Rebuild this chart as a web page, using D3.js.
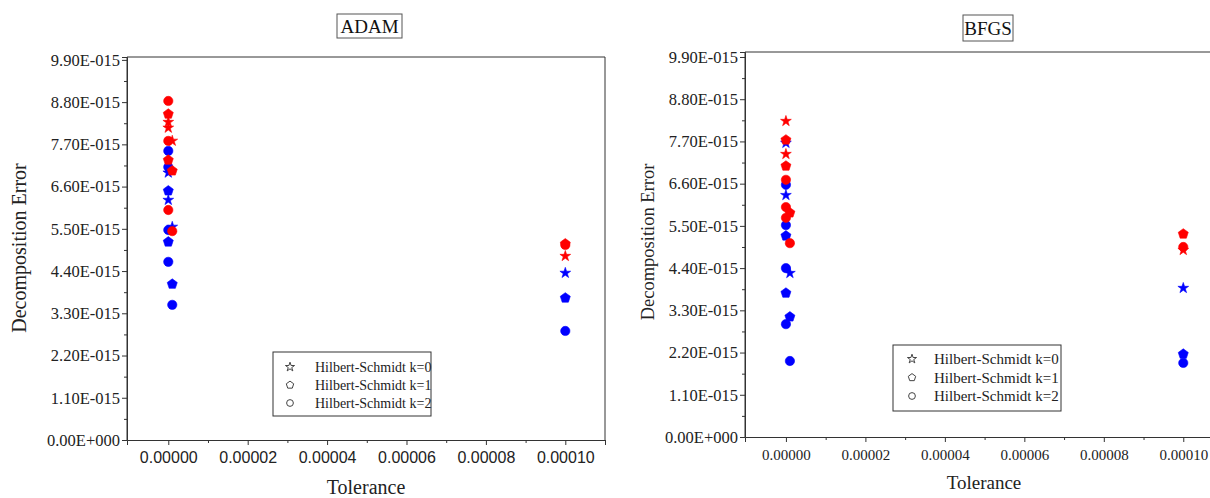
<!DOCTYPE html>
<html>
<head>
<meta charset="utf-8">
<script src="https://cdn.jsdelivr.net/npm/d3@7"></script>
<style>
  body { margin: 0; background: #fff; }
  svg { display: block; }
  .serif { font-family: "Liberation Serif", "Times New Roman", serif; }
  .sans { font-family: "Liberation Sans", Arial, sans-serif; }
</style>
</head>
<body>
<div id="chart"></div>
<script>
// values are in units of 1e-15, x is the tolerance
// ADAM panel
const adamRedStar = [[1e-4, 4.79], [1e-6, 7.79], [1e-9, 8.28], [1e-10, 8.13]];
const adamRedPent = [[1e-4, 5.11], [1e-6, 7.01], [1e-9, 8.49], [1e-10, 7.29]];
const adamRedCirc = [[1e-4, 5.08], [1e-6, 5.44], [1e-9, 8.83], [1e-10, 7.79], [1e-11, 5.99]];
const adamBlueStar = [[1e-4, 4.35], [1e-6, 5.55], [1e-9, 6.96], [1e-10, 6.25]];
const adamBluePent = [[1e-4, 3.70], [1e-6, 4.06], [1e-9, 6.49], [1e-10, 5.16]];
const adamBlueCirc = [[1e-4, 2.84], [1e-6, 3.52], [1e-9, 7.53], [1e-10, 7.11], [1e-11, 5.47], [1e-12, 4.64]];

// BFGS panel
const bfgsRedStar = [[1e-4, 4.87], [1e-9, 8.23], [1e-10, 7.37]];
const bfgsRedPent = [[1e-4, 5.29], [1e-6, 5.84], [1e-9, 7.74], [1e-10, 7.06]];
const bfgsRedCirc = [[1e-4, 4.95], [1e-6, 5.05], [1e-9, 6.70], [1e-10, 5.99], [1e-11, 5.71]];
const bfgsBlueStar = [[1e-4, 3.88], [1e-6, 4.27], [1e-9, 7.66], [1e-10, 6.30]];
const bfgsBluePent = [[1e-4, 2.16], [1e-6, 3.13], [1e-9, 5.24], [1e-10, 3.75]];
const bfgsBlueCirc = [[1e-4, 1.93], [1e-6, 1.98], [1e-9, 6.57], [1e-10, 5.52], [1e-11, 4.40], [1e-12, 2.94]];

const xTicks = [0, 0.00002, 0.00004, 0.00006, 0.00008, 0.0001];
const xMinor = [0.00001, 0.00003, 0.00005, 0.00007, 0.00009, 0.00011];
const yTicks = [0, 1.1, 2.2, 3.3, 4.4, 5.5, 6.6, 7.7, 8.8, 9.9];
const yMinor = [0.55, 1.65, 2.75, 3.85, 4.95, 6.05, 7.15, 8.25, 9.35];
const legendLabels = ["Hilbert-Schmidt k=0", "Hilbert-Schmidt k=1", "Hilbert-Schmidt k=2"];

const width = 1210, height = 498;

const svg = d3.select("#chart").append("svg")
	.attr("width", width)
	.attr("height", height);

// pentagon shape for d3.symbol
const symbolPentagon = {
	draw: function(context, size) {
		const r = Math.sqrt(size / 2.378);
		for (let i = 0; i < 5; i++) {
			const a = -Math.PI / 2 + i * 2 * Math.PI / 5;
			const px = r * Math.cos(a), py = r * Math.sin(a);
			if (i === 0) context.moveTo(px, py); else context.lineTo(px, py);
		}
		context.closePath();
	}
};

const shapes = [d3.symbolStar, symbolPentagon, d3.symbolCircle];
const sizes = [36, 66, 68];

function fmtE(v) {
	if (v === 0) return "0.00E+000";
	return v.toFixed(2) + "E-015";
}

function drawPanel(p) {
	const g = svg.append("g");
	const x = d3.scaleLinear().domain(p.xDomain).range([p.left, p.right]);
	const y = d3.scaleLinear().domain(p.yDomain).range([p.bottom, p.top]);

	// frame
	g.append("path")
		.attr("d", "M" + p.left + "," + p.bottom + "V" + p.top + "H" + p.right + "V" + p.bottom)
		.attr("fill", "none").attr("stroke", "#333").attr("stroke-width", 1);

	// y axis
	const ya = g.append("g").attr("transform", "translate(" + p.left + ",0)")
		.call(d3.axisLeft(y).tickValues(yTicks).tickSize(5).tickFormat(fmtE));
	ya.select(".domain").attr("stroke", "#333");
	ya.selectAll(".tick line").attr("stroke", "#333");
	ya.selectAll("text").attr("class", "serif").style("font-size", "16.5px").attr("fill", "#222").attr("x", -7);
	const ym = g.append("g").attr("transform", "translate(" + p.left + ",0)")
		.call(d3.axisLeft(y).tickValues(yMinor).tickSize(3).tickFormat(""));
	ym.select(".domain").remove();
	ym.selectAll(".tick line").attr("stroke", "#333");

	// x axis
	const xa = g.append("g").attr("transform", "translate(0," + p.bottom + ")")
		.call(d3.axisBottom(x).tickValues(xTicks).tickSize(5).tickFormat(d3.format(".5f")));
	xa.select(".domain").attr("stroke", "#333");
	xa.selectAll(".tick line").attr("stroke", "#333");
	xa.selectAll("text").attr("class", p.xFontClass).style("font-size", p.xFontSize).attr("fill", "#222").attr("y", 12);
	const xm = g.append("g").attr("transform", "translate(0," + p.bottom + ")")
		.call(d3.axisBottom(x).tickValues(xMinor).tickSize(3).tickFormat(""));
	xm.select(".domain").remove();
	xm.selectAll(".tick line").attr("stroke", "#333");

	// axis titles
	g.append("text").attr("class", "serif")
		.attr("x", (p.left + p.right) / 2).attr("y", p.xTitleY)
		.attr("text-anchor", "middle").style("font-size", p.xTitleSize).attr("fill", "#222")
		.text("Tolerance");
	g.append("text").attr("class", "serif")
		.attr("transform", "translate(" + p.yTitleX + "," + p.yTitleY + ") rotate(-90)")
		.attr("text-anchor", "middle").style("font-size", p.yTitleSize).attr("fill", "#222")
		.text("Decomposition Error");

	// title box
	g.append("rect")
		.attr("x", p.titleBox[0]).attr("y", p.titleBox[1])
		.attr("width", p.titleBox[2]).attr("height", p.titleBox[3])
		.attr("fill", "#fff").attr("stroke", "#555").attr("stroke-width", 1);
	g.append("text").attr("class", "serif")
		.attr("x", p.titleBox[0] + p.titleBox[2] / 2).attr("y", p.titleBox[1] + p.titleBox[3] / 2)
		.attr("dy", "0.35em").attr("text-anchor", "middle").style("font-size", "19px").attr("fill", "#111")
		.text(p.title);

	// points, blue under red
	const series = [
		{ data: p.blue[0], shape: 0, color: "#0000ff" },
		{ data: p.blue[1], shape: 1, color: "#0000ff" },
		{ data: p.blue[2], shape: 2, color: "#0000ff" },
		{ data: p.red[0], shape: 0, color: "#ff0000" },
		{ data: p.red[1], shape: 1, color: "#ff0000" },
		{ data: p.red[2], shape: 2, color: "#ff0000" }
	];
	series.forEach(function(s) {
		g.append("g").selectAll("path")
			.data(s.data)
			.enter().append("path")
			.attr("transform", function(d) { return "translate(" + x(d[0]) + "," + y(d[1]) + ")"; })
			.attr("d", d3.symbol().type(shapes[s.shape]).size(sizes[s.shape]))
			.attr("fill", s.color)
			.attr("stroke", s.color)
			.attr("stroke-width", 0.6);
	});

	// legend
	const lg = g.append("g");
	lg.append("rect")
		.attr("x", p.legend.x).attr("y", p.legend.y)
		.attr("width", p.legend.w).attr("height", p.legend.h)
		.attr("fill", "#fff").attr("stroke", "#333").attr("stroke-width", 1);
	legendLabels.forEach(function(lbl, i) {
		const cy = p.legend.y + p.legend.row0 + i * p.legend.step;
		lg.append("path")
			.attr("transform", "translate(" + (p.legend.x + p.legend.symX) + "," + cy + ")")
			.attr("d", d3.symbol().type(shapes[i]).size(i === 0 ? 26 : 36))
			.attr("fill", "none").attr("stroke", "#444").attr("stroke-width", 1);
		lg.append("text").attr("class", "serif")
			.attr("x", p.legend.x + p.legend.textX).attr("y", cy)
			.attr("dy", "0.35em").style("font-size", p.legend.font).attr("fill", "#222")
			.text(lbl);
	});
}

drawPanel({
	title: "ADAM",
	left: 127, right: 605, top: 57, bottom: 440,
	xDomain: [-0.0000104, 0.00011],
	yDomain: [0, 9.975],
	xFontClass: "sans", xFontSize: "16px",
	xTitleY: 494, xTitleSize: "20px",
	yTitleX: 26, yTitleY: 248, yTitleSize: "20px",
	titleBox: [337, 14, 65, 24],
	red: [adamRedStar, adamRedPent, adamRedCirc],
	blue: [adamBlueStar, adamBluePent, adamBlueCirc],
	legend: { x: 273, y: 352, w: 158, h: 64, row0: 15, step: 18, symX: 17, textX: 42, font: "14px" }
});

drawPanel({
	title: "BFGS",
	left: 745, right: 1223, top: 52, bottom: 437,
	xDomain: [-0.0000103, 0.00011],
	yDomain: [0, 10.03],
	xFontClass: "serif", xFontSize: "15px",
	xTitleY: 489, xTitleSize: "19px",
	yTitleX: 654, yTitleY: 242, yTitleSize: "18.5px",
	titleBox: [963, 15, 50, 26],
	red: [bfgsRedStar, bfgsRedPent, bfgsRedCirc],
	blue: [bfgsBlueStar, bfgsBluePent, bfgsBlueCirc],
	legend: { x: 893, y: 345, w: 168, h: 66, row0: 14, step: 18.5, symX: 19, textX: 41, font: "15px" }
});
</script>
</body>
</html>
